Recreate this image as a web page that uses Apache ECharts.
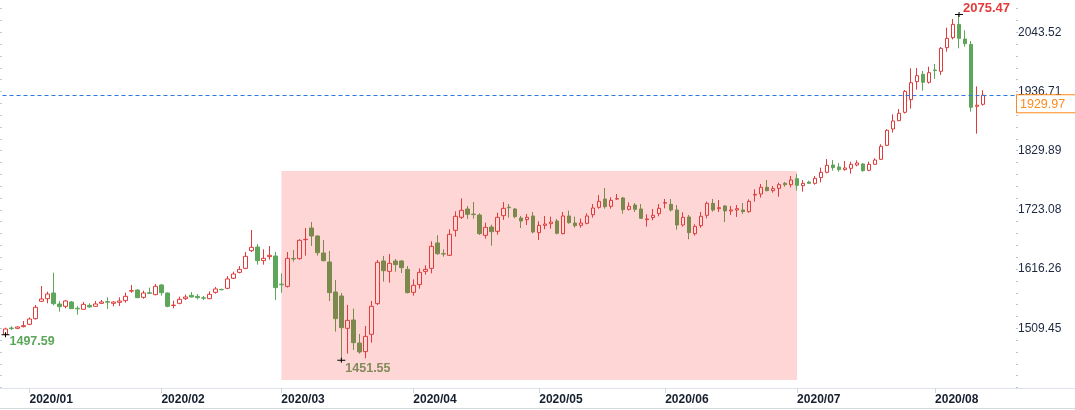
<!DOCTYPE html>
<html><head><meta charset="utf-8">
<script src="https://cdn.jsdelivr.net/npm/echarts@6/dist/echarts.min.js"></script>
<style>html,body{margin:0;padding:0;background:#fff}#c{width:1075px;height:410px}</style>
</head><body><div id="c"></div>
<script>
// ---------- data ----------
const opens = [1498.5,1510.0,1509.4,1512.4,1516.6,1526.8,1558.1,1562.9,1573.1,1553.3,1549.1,1556.9,1545.5,1543.7,1550.9,1549.1,1554.5,1557.5,1554.5,1556.3,
1559.3,1576.5,1578.5,1565.3,1573.5,1570.1,1587.6,1573.1,1550.4,1554.5,1562.9,1568.9,1567.1,1564.4,1562.9,1574.3,1579.6,1581.6,1599.6,1610.4,
1617.6,1649.5,1656.1,1631.5,1638.7,1639.9,1589.0,1585.2,1635.5,1635.1,1669.4,1690.4,1676.0,1645.3,1629.1,1574.9,1567.7,1509.4,1524.4,1482.9,
1467.3,1498.6,1553.9,1630.9,1612.2,1630.9,1630.9,1615.8,1574.3,1588.2,1612.2,1617.6,1663.4,1644.0,1641.1,1686.2,1709.7,1724.7,1715.5,1713.9,
1677.2,1692.2,1684.4,1712.7,1728.0,1724.7,1708.5,1705.5,1712.1,1682.0,1695.2,1698.2,1703.0,1680.2,1712.1,1699.4,1695.2,1698.8,1714.5,1727.7,
1742.7,1729.5,1742.7,1744.6,1724.1,1731.9,1724.7,1705.5,1709.1,1716.3,1735.3,1733.1,1722.9,1695.8,1710.3,1680.2,1694.6,1713.3,1734.9,1725.3,
1730.1,1721.1,1722.9,1722.9,1719.9,1749.9,1751.7,1763.8,1757.8,1762.0,1771.0,1768.6,1779.4,1766.8,1773.4,1771.0,1781.3,1790.9,1804.1,1800.5,
1795.7,1798.1,1804.1,1805.9,1794.5,1805.3,1814.3,1839.6,1869.1,1884.1,1899.1,1922.0,1954.5,1967.7,1953.3,1975.5,1973.1,2015.8,2033.8,2057.9,
2031.4,2021.8,1910.0,1913.6];
const closes = [1508.2,1509.0,1511.8,1514.2,1526.2,1547.3,1562.3,1571.3,1553.9,1548.5,1558.7,1544.9,1544.5,1552.7,1547.9,1553.3,1556.9,1556.5,1556.9,1558.7,
1567.1,1577.3,1564.7,1573.1,1572.5,1585.2,1573.7,1549.1,1551.2,1561.7,1565.9,1565.9,1564.7,1563.7,1570.7,1580.4,1579.0,1598.4,1607.4,1615.8,
1639.3,1655.5,1631.5,1635.7,1641.1,1582.8,1588.0,1635.7,1634.5,1668.2,1670.0,1676.0,1645.9,1631.5,1573.7,1526.8,1510.6,1523.8,1483.5,1466.7,
1494.9,1549.1,1628.5,1613.4,1626.7,1624.3,1618.8,1573.7,1587.0,1610.4,1615.8,1657.3,1644.1,1643.5,1679.0,1711.5,1722.3,1715.1,1714.6,1680.2,
1691.6,1683.8,1709.7,1725.9,1727.0,1710.9,1703.0,1709.7,1683.2,1695.2,1697.6,1701.2,1680.8,1712.1,1700.0,1694.6,1699.4,1712.1,1726.5,1738.5,
1728.9,1740.3,1743.3,1723.5,1729.5,1724.1,1707.9,1706.7,1713.3,1725.9,1736.1,1722.9,1695.8,1709.7,1682.0,1693.4,1711.5,1734.9,1722.9,1727.1,
1721.1,1722.9,1725.3,1719.9,1738.5,1751.1,1763.8,1757.8,1761.4,1768.6,1768.6,1777.0,1767.4,1771.0,1771.0,1780.0,1790.9,1803.5,1799.3,1795.7,
1798.7,1805.3,1807.7,1793.9,1805.3,1813.1,1837.8,1866.7,1883.5,1897.3,1937.0,1952.6,1965.3,1953.3,1970.7,1974.5,2014.6,2032.6,2057.9,2032.6,
2023.0,1908.2,1912.0,1929.97];
const lows = [1497.59,1506.0,1508.0,1511.0,1515.0,1525.0,1557.0,1554.5,1550.9,1539.5,1545.5,1544.3,1534.0,1543.0,1546.7,1548.5,1553.3,1544.3,1549.1,1549.7,
1555.7,1573.7,1564.1,1562.9,1571.3,1569.0,1568.3,1547.3,1545.5,1552.7,1560.5,1565.3,1561.7,1560.5,1562.0,1571.9,1578.0,1580.0,1598.4,1608.6,
1616.0,1647.0,1624.3,1624.3,1633.3,1560.5,1573.7,1583.0,1629.7,1633.3,1640.5,1658.0,1640.5,1630.0,1558.7,1503.4,1451.55,1463.7,1470.3,1463.7,
1455.3,1483.5,1551.5,1593.6,1591.8,1611.6,1609.2,1572.5,1568.3,1581.0,1606.2,1608.6,1642.0,1638.7,1640.0,1674.8,1706.7,1706.7,1707.3,1677.8,
1671.2,1658.5,1678.4,1704.9,1709.1,1708.0,1690.4,1695.8,1680.8,1668.8,1688.0,1689.2,1679.0,1679.0,1698.2,1691.0,1691.0,1697.0,1709.1,1725.3,
1725.3,1725.3,1741.5,1716.3,1722.0,1719.3,1706.7,1692.8,1704.3,1711.5,1725.9,1720.0,1687.4,1693.0,1670.0,1676.6,1691.0,1707.9,1720.0,1719.3,
1701.2,1713.9,1710.3,1716.0,1718.0,1737.9,1745.2,1756.6,1754.2,1746.9,1765.0,1763.8,1757.8,1756.0,1769.8,1768.6,1772.8,1789.0,1793.9,1792.1,
1794.0,1788.5,1801.7,1792.0,1793.0,1804.0,1813.0,1838.0,1862.5,1883.0,1897.0,1905.7,1940.0,1938.2,1951.0,1959.3,1966.5,2008.6,2030.8,2014.6,
2017.6,1900.3,1860.6,1911.2];
const highs = [1510.6,1513.0,1513.0,1522.6,1529.2,1551.5,1585.8,1575.5,1609.8,1558.7,1560.5,1558.7,1549.7,1556.9,1554.5,1558.7,1560.5,1565.3,1558.1,1565.3,
1573.7,1587.6,1579.7,1577.3,1582.8,1589.4,1589.4,1574.0,1559.3,1566.5,1570.1,1574.9,1571.3,1567.7,1576.1,1584.0,1581.0,1603.8,1611.6,1621.8,
1647.1,1686.8,1661.5,1651.9,1657.9,1647.1,1608.6,1647.1,1650.7,1670.0,1690.4,1701.2,1677.0,1668.8,1648.9,1596.6,1573.1,1551.5,1544.9,1499.2,
1513.6,1558.7,1632.7,1639.9,1643.5,1634.5,1632.7,1621.8,1597.8,1617.6,1623.1,1666.4,1677.2,1651.9,1688.0,1720.5,1743.9,1730.1,1737.3,1716.9,
1700.0,1696.4,1718.1,1737.3,1733.7,1726.5,1712.1,1715.7,1719.3,1702.5,1712.1,1710.9,1706.7,1719.3,1721.7,1710.9,1707.3,1716.9,1733.7,1749.9,
1762.6,1745.8,1751.8,1746.4,1736.7,1735.5,1733.7,1715.1,1724.7,1733.7,1742.8,1742.8,1731.9,1718.7,1713.9,1697.0,1719.3,1737.9,1742.8,1740.9,
1731.9,1730.1,1731.9,1735.5,1742.1,1760.2,1769.8,1777.0,1766.2,1772.2,1773.4,1784.2,1787.8,1777.0,1775.8,1784.2,1799.3,1814.9,1813.1,1807.7,
1811.3,1810.1,1812.5,1807.7,1810.1,1816.1,1841.4,1868.5,1895.5,1905.1,1939.4,1978.5,1979.1,1973.7,1981.5,1986.3,2017.0,2051.9,2067.5,2075.47,
2047.1,2027.8,1946.0,1938.8];
const yTickLabels = [1509.45, 1616.26, 1723.08, 1829.89, 1936.71, 2043.52];
const bandStartDate = '2020-03-02', bandEndDate = '2020-07-01';
const bandHigh = 1793.3, bandLow = 1416.0;

// ---------- categories: trading days (plus a few empty slots on the right) ----------
const dates = [];
(function(){
  const skip = {'2020-01-01':1,'2020-04-10':1};
  const d = new Date(Date.UTC(2019, 11, 26));
  while (dates.length < 169) {
    const wd = d.getUTCDay();
    const s = d.toISOString().slice(0,10);
    if (wd !== 0 && wd !== 6 && !skip[s]) dates.push(s);
    d.setUTCDate(d.getUTCDate() + 1);
  }
})();
const isMonthStart = (i) => i > 0 && dates[i].slice(5,7) !== dates[i-1].slice(5,7);
const monthLabel = (i) => dates[i].slice(0,4) + '/' + dates[i].slice(5,7);
const bandStartIndex = dates.indexOf(bandStartDate), bandEndIndex = dates.indexOf(bandEndDate);

const UP = '#e03c3c', DOWN = '#5ea65a', DOWN_BAND = '#7b8a4c';
const candleData = opens.map((o, i) => {
  const item = { value: [o, closes[i], lows[i], highs[i]] };
  if (i > bandStartIndex && i < bandEndIndex) item.itemStyle = { color0: DOWN_BAND, borderColor0: DOWN_BAND };
  return item;
});

let hiIdx = 0, loIdx = 0;
highs.forEach((h, i) => { if (h > highs[hiIdx]) hiIdx = i; });
lows.forEach((l, i) => { if (l < lows[loIdx]) loIdx = i; });
const lastClose = closes[closes.length - 1];

const majorStep = (yTickLabels[yTickLabels.length-1] - yTickLabels[0]) / (yTickLabels.length - 1);
const minorStep = majorStep / 5;
const Y_MIN = 1401.7, Y_MAX = 2101.8;
const minorTicks = [];
for (let v = yTickLabels[0]; v >= Y_MIN; v -= minorStep) minorTicks.unshift(v);
for (let v = yTickLabels[0] + minorStep; v <= Y_MAX; v += minorStep) minorTicks.push(v);

const FONT = '"Liberation Sans", Arial, sans-serif';
const cross = 'path://M0,2h8v1h-8z M3.5,0h1v5h-1z';

const chart = echarts.init(document.getElementById('c'), null, { renderer: 'canvas' });
chart.setOption({
  animation: false,
  backgroundColor: '#ffffff',
  textStyle: { fontFamily: FONT },
  grid: { left: 2.5, right: 59, top: 0, bottom: 22, containLabel: false, outerBoundsMode: 'none' },
  xAxis: {
    type: 'category', data: dates, boundaryGap: true,
    axisLine: { show: true, lineStyle: { color: '#dde3e8', width: 1 } },
    axisTick: { show: true, alignWithLabel: true, length: 5, interval: (i) => isMonthStart(i), lineStyle: { color: '#cfd6dc' } },
    axisLabel: { show: true, interval: (i) => isMonthStart(i), formatter: (v, i) => isMonthStart(i) ? monthLabel(i) : '',
      align: 'left', margin: 6, color: '#16202e', fontSize: 12, fontWeight: 'bold', fontFamily: FONT },
    splitLine: { show: false }
  },
  yAxis: [
    { type: 'value', position: 'right', min: Y_MIN, max: Y_MAX, scale: true,
      axisLine: { show: false },
      axisTick: { show: true, customValues: minorTicks, length: 2, lineStyle: { color: '#b9c1c9' } },
      axisLabel: { show: true, customValues: yTickLabels, formatter: (v) => v.toFixed(2), margin: 2,
        color: '#1c2740', fontSize: 12, fontFamily: FONT },
      splitLine: { show: false } },
    { type: 'value', position: 'right', min: Y_MIN, max: Y_MAX, scale: true,
      axisLine: { show: false }, axisTick: { show: false }, splitLine: { show: false },
      axisLabel: { show: true, customValues: [lastClose], formatter: (v) => v.toFixed(2), margin: 1,
        verticalAlign: 'top', color: '#ff8a1c', fontSize: 12.5, fontFamily: FONT,
        backgroundColor: '#ffffff', borderColor: '#ff8a1c', borderWidth: 1, padding: [3, 22, 1, 3] } },
    { type: 'value', position: 'left', min: Y_MIN, max: Y_MAX, scale: true, offset: 2.5,
      axisLine: { show: false }, splitLine: { show: false }, axisLabel: { show: false },
      axisTick: { show: true, inside: true, customValues: minorTicks, length: 2, lineStyle: { color: '#c3cbd3' } } }
  ],
  series: [
    { type: 'line', data: [], z: 1, silent: true,
      markArea: { silent: true, itemStyle: { color: '#ffd6d6' },
        data: [[{ xAxis: bandStartIndex, yAxis: bandHigh }, { xAxis: bandEndIndex, yAxis: bandLow }]] } },
    { type: 'candlestick', z: 3, data: candleData, barWidth: 4,
      itemStyle: { color: 'rgba(255,255,255,0)', color0: DOWN, borderColor: UP, borderColor0: DOWN, borderWidth: 1 },
      markLine: { silent: true, symbol: 'none', label: { show: false },
        lineStyle: { color: '#2a7ae0', type: [4, 3], width: 1 },
        data: [{ yAxis: lastClose }] },
      markPoint: { silent: true, symbol: cross, symbolSize: [8, 5], itemStyle: { color: '#000' },
        label: { show: true, position: 'right', distance: 0, fontWeight: 'bold', fontFamily: FONT },
        data: [
          { coord: [hiIdx, highs[hiIdx]], value: highs[hiIdx],
            label: { formatter: highs[hiIdx].toFixed(2), color: '#e23b3b', fontSize: 13, offset: [0, -6] } },
          { coord: [loIdx, lows[loIdx]], value: lows[loIdx],
            label: { formatter: lows[loIdx].toFixed(2), color: '#808b57', fontSize: 12.5, offset: [0, 8] } },
          { coord: [0, lows[0]], value: lows[0],
            label: { formatter: lows[0].toFixed(2), color: '#5ca65a', fontSize: 12.5, offset: [0, 7] } }
        ] } }
  ],
  graphic: [
    { type: 'line', silent: true, shape: { x1: 0, y1: 388.5, x2: 1075, y2: 388.5 }, style: { stroke: '#dde3e8', lineWidth: 1 } },
    { type: 'line', silent: true, shape: { x1: 0, y1: 408.5, x2: 1075, y2: 408.5 }, style: { stroke: '#d3dae0', lineWidth: 1 } }
  ]
});
</script></body></html>
